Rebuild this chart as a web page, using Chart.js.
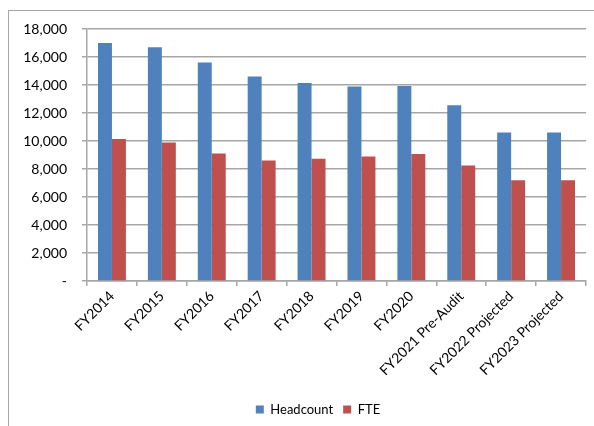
<!DOCTYPE html>
<html>
<head>
<meta charset="utf-8">
<script src="https://cdn.jsdelivr.net/npm/chart.js@4"></script>
<style>
  html, body { margin: 0; padding: 0; background: #fff; }
  #wrap { position: relative; width: 594px; height: 426px; overflow: hidden; }
  #frame { position: absolute; left: 8px; top: 10px; width: 620px; height: 440px; border: 1.5px solid #a6a6a6; box-sizing: border-box; }
  canvas { position: absolute; left: 0; top: 0; }
</style>
</head>
<body>
<div id="wrap">
  <div id="frame"></div>
  <canvas id="staffChart" width="594" height="426"></canvas>
</div>
<script>
// Datos del gráfico
const years = ['FY2014', 'FY2015', 'FY2016', 'FY2017', 'FY2018', 'FY2019', 'FY2020',
  'FY2021 Pre-Audit', 'FY2022 Projected', 'FY2023 Projected'];
const headcount = [17000, 16700, 15600, 14600, 14150, 13900, 13930, 12550, 10600, 10600];
const fte = [10150, 9900, 9100, 8600, 8740, 8900, 9070, 8250, 7200, 7200];

const gridGray = '#a6a6a6';
const font = 'Lato, "Open Sans", sans-serif';

const ctx = document.getElementById('staffChart');

// el original tiene la leyenda algo desplazada a la derecha
const legendShift = {
  id: 'legendShift',
  afterLayout(chart) {
    const lg = chart.legend;
    if (lg) { lg.left += 25; lg.right += 25; }
  }
};

new Chart(ctx, {
  type: 'bar',
  data: {
    labels: years,
    datasets: [
      { label: 'Headcount', data: headcount, backgroundColor: '#4f81bd', borderWidth: 0,
        barPercentage: 1, categoryPercentage: 0.56 },
      { label: 'FTE', data: fte, backgroundColor: '#c0504d', borderWidth: 0,
        barPercentage: 1, categoryPercentage: 0.56 }
    ]
  },
  plugins: [legendShift],
  options: {
    responsive: false,
    animation: false,
    layout: { padding: { top: 29, right: 8, left: 0, bottom: 0 } },
    plugins: {
      legend: {
        position: 'bottom',
        labels: {
          boxWidth: 8, boxHeight: 8, padding: 10,
          color: '#000', font: { family: font, size: 13 }
        }
      },
      tooltip: { enabled: false }
    },
    scales: {
      x: {
        grid: { drawOnChartArea: false, drawTicks: true, tickLength: 5, color: gridGray, lineWidth: 1.5 },
        border: { color: gridGray, width: 1.5 },
        ticks: { color: '#000', font: { family: font, size: 14 }, minRotation: 45, maxRotation: 45, padding: 2 },
        afterFit: s => { s.height = 112; }
      },
      y: {
        min: 0, max: 18000,
        grid: { color: gridGray, lineWidth: 1.5, tickLength: 5 },
        border: { color: gridGray, width: 1.5 },
        ticks: {
          stepSize: 2000, padding: 15, color: '#000', font: { family: font, size: 14 },
          callback: v => v === 0 ? '-' : v.toLocaleString('en-US')
        },
        afterFit: s => { s.width = 87; }
      }
    }
  }
});
</script>
</body>
</html>
